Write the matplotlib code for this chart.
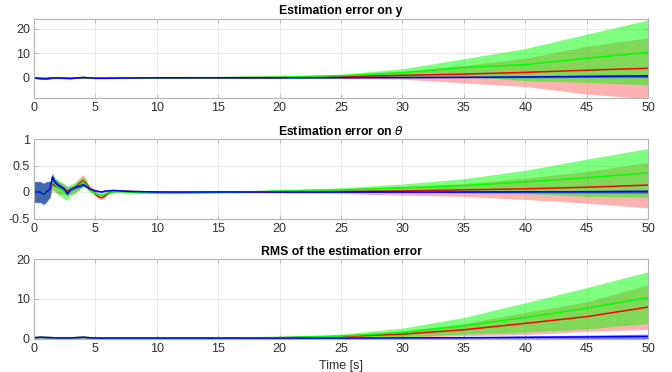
import matplotlib
matplotlib.use("Agg")
import matplotlib.pyplot as plt
import numpy as np

plt.rcParams['font.family'] = ['Liberation Sans', 'DejaVu Sans']

# ---------------- data ----------------
t_coarse = [0, 0.5, 1, 1.5, 2, 3, 4, 5, 6, 8, 10, 12, 15, 20, 25, 30, 35, 40, 45, 50]

# Estimation error on y
y_blue_mean = [0, -0.3, -0.4, -0.1, -0.1, -0.3, 0.1, -0.2, -0.2, -0.1, 0, 0, 0, 0, 0.05, 0.1, 0.2, 0.35, 0.55, 0.75]
y_blue_sd   = [0.3, 0.3, 0.3, 0.2, 0.2, 0.1, 0.1, 0.1, 0.1, 0.1, 0.1, 0.1, 0.1, 0.1, 0.1, 0.15, 0.2, 0.3, 0.45, 0.6]
y_red_mean  = [0, -0.2, -0.3, -0.1, -0.1, -0.2, 0.1, -0.2, -0.2, -0.1, 0, 0, 0, 0.1, 0.4, 1.0, 1.5, 2.2, 3.1, 3.9]
y_red_sd    = [0.3, 0.3, 0.3, 0.3, 0.3, 0.2, 0.2, 0.2, 0.2, 0.1, 0.1, 0.1, 0.15, 0.3, 0.7, 1.6, 3.6, 5.8, 9.8, 12.5]
y_green_mean = [0, -0.2, -0.3, -0.1, -0.1, -0.2, 0.1, -0.2, -0.2, -0.1, 0, 0, 0.05, 0.3, 0.8, 2.1, 4.2, 5.4, 8.0, 10.4]
y_green_sd   = [0.3, 0.3, 0.3, 0.3, 0.3, 0.2, 0.2, 0.2, 0.2, 0.1, 0.1, 0.1, 0.15, 0.3, 0.7, 1.6, 3.6, 6.6, 9.9, 13.3]

# Estimation error on theta
t_fine = [0, 0.5, 0.8, 1.0, 1.3, 1.5, 1.7, 2.0, 2.3, 2.5, 2.7, 3.0, 3.3, 3.5, 3.8, 4.0, 4.3, 4.5, 4.8,
          5.0, 5.3, 5.5, 5.8, 6.0, 6.5, 7.0, 8.0, 10, 12, 15, 20, 25, 30, 35, 40, 45, 50]
th_blue_mean = [0.0, 0.0, -0.04, 0.0, 0.05, 0.28, 0.18, 0.12, 0.08, 0.05, -0.03, 0.05, 0.08, 0.10, 0.12, 0.14,
                0.10, 0.06, 0.04, 0.02, 0.01, 0.0, 0.02, 0.02, 0.03, 0.02, 0.01, 0.0, 0.0, 0.0, 0.0, 0.0,
                0.0, 0.0, 0.005, 0.005, 0.01]
th_blue_sd = [0.2, 0.2, 0.2, 0.2, 0.15, 0.08, 0.06, 0.05, 0.04, 0.04, 0.04, 0.03, 0.03, 0.03, 0.03, 0.03,
              0.02, 0.02, 0.02, 0.02, 0.015, 0.015, 0.015, 0.015, 0.01, 0.01, 0.01, 0.01, 0.01, 0.01, 0.01,
              0.01, 0.012, 0.015, 0.02, 0.025, 0.03]
th_red_mean = [0.0, 0.0, -0.02, 0.0, 0.05, 0.15, 0.12, 0.08, 0.06, 0.05, 0.02, 0.04, 0.07, 0.12, 0.18, 0.22,
               0.15, 0.08, 0.02, -0.04, -0.10, -0.11, -0.07, -0.03, 0.02, 0.02, 0.01, 0.0, -0.01, 0.0, 0.0,
               0.01, 0.02, 0.04, 0.06, 0.09, 0.13]
th_red_sd = [0.19, 0.19, 0.19, 0.18, 0.15, 0.12, 0.12, 0.12, 0.1, 0.1, 0.08, 0.08, 0.09, 0.1, 0.11, 0.11,
             0.06, 0.05, 0.04, 0.03, 0.03, 0.03, 0.03, 0.02, 0.02, 0.015, 0.01, 0.01, 0.01, 0.01, 0.02,
             0.04, 0.08, 0.12, 0.2, 0.3, 0.43]
th_green_mean = [0.0, 0.0, -0.02, 0.0, 0.05, 0.2, 0.15, 0.08, 0.04, 0.0, -0.02, 0.04, 0.07, 0.1, 0.15, 0.2,
                 0.12, 0.05, 0.0, -0.03, -0.05, -0.06, -0.04, -0.02, 0.01, 0.01, -0.01, -0.02, -0.02, -0.01,
                 0.02, 0.04, 0.08, 0.12, 0.19, 0.27, 0.36]
th_green_sd = [0.19, 0.19, 0.19, 0.18, 0.15, 0.12, 0.13, 0.14, 0.14, 0.14, 0.13, 0.1, 0.1, 0.1, 0.1, 0.1,
               0.06, 0.05, 0.04, 0.03, 0.03, 0.03, 0.03, 0.02, 0.02, 0.015, 0.01, 0.01, 0.01, 0.01, 0.02,
               0.04, 0.07, 0.13, 0.22, 0.35, 0.46]

# RMS of the estimation error
r_blue_mean = [0.2, 0.3, 0.25, 0.2, 0.15, 0.15, 0.3, 0.1, 0.1, 0.1, 0.1, 0.1, 0.1, 0.1, 0.1, 0.15, 0.2, 0.3, 0.4, 0.5]
r_blue_sd   = [0.1, 0.1, 0.1, 0.1, 0.1, 0.1, 0.1, 0.1, 0.1, 0.1, 0.1, 0.1, 0.1, 0.1, 0.1, 0.15, 0.2, 0.3, 0.45, 0.6]
r_red_mean  = [0.2, 0.3, 0.25, 0.2, 0.15, 0.15, 0.3, 0.1, 0.1, 0.1, 0.1, 0.1, 0.1, 0.2, 0.5, 1.1, 2.2, 3.8, 5.5, 7.9]
r_red_sd    = [0.1, 0.1, 0.1, 0.1, 0.1, 0.1, 0.1, 0.1, 0.1, 0.1, 0.1, 0.1, 0.1, 0.1, 0.3, 0.8, 1.5, 2.8, 3.7, 5.6]
r_green_mean = [0.2, 0.3, 0.25, 0.2, 0.15, 0.15, 0.3, 0.1, 0.1, 0.1, 0.1, 0.1, 0.1, 0.25, 0.6, 1.5, 3.2, 5.3, 7.6, 10.3]
r_green_sd   = [0.1, 0.1, 0.1, 0.1, 0.1, 0.1, 0.1, 0.1, 0.1, 0.1, 0.1, 0.1, 0.1, 0.15, 0.5, 1.1, 2.1, 3.7, 5.2, 6.5]

titles = ['Estimation error on y', r'Estimation error on $\theta$', 'RMS of the estimation error']
ylims = [(-8.3, 24.3), (-0.5, 1.0), (0, 20)]
yticks = [[0, 10, 20], [-0.5, 0, 0.5, 1], [0, 10, 20]]
ytick_labels = [['0', '10', '20'], ['-0.5', '0', '0.5', '1'], ['0', '10', '20']]
xticks = [0, 5, 10, 15, 20, 25, 30, 35, 40, 45, 50]
xlabel = 'Time [s]'

panels = [
    (t_coarse, [(y_red_mean, y_red_sd), (y_green_mean, y_green_sd), (y_blue_mean, y_blue_sd)]),
    (t_fine, [(th_red_mean, th_red_sd), (th_green_mean, th_green_sd), (th_blue_mean, th_blue_sd)]),
    (t_coarse, [(r_red_mean, r_red_sd), (r_green_mean, r_green_sd), (r_blue_mean, r_blue_sd)]),
]

line_colors = ['#ff0000', '#00ff00', '#0000ff']
band_alpha = [0.3, 0.5, 0.5]

# ---------------- figure ----------------
fig = plt.figure(figsize=(6.72, 3.72), dpi=100)
left, width = 34 / 672, (648 - 34) / 672
bottoms = [1 - 98 / 372, 1 - 218.5 / 372, 1 - 338.5 / 372]
height = 79.5 / 372

tick_col = '#303030'
spine_col = '#b4b4b4'

for i, (tt, series) in enumerate(panels):
    ax = fig.add_axes([left, bottoms[i], width, height])
    tt = np.asarray(tt)
    for (m, s), c, a in zip(series, line_colors, band_alpha):
        m = np.asarray(m); s = np.asarray(s)
        ax.fill_between(tt, m - s, m + s, color=c, alpha=a, linewidth=0)
    for (m, s), c in zip(series, line_colors):
        ax.plot(tt, m, color=c, lw=1.1)
    ax.set_xlim(0, 50)
    ax.set_ylim(*ylims[i])
    ax.set_xticks(xticks)
    ax.set_yticks(yticks[i])
    ax.set_yticklabels(ytick_labels[i])
    ax.grid(True, color='#e6e6e6', lw=0.6)
    ax.set_axisbelow(True)
    ax.tick_params(direction='in', length=3, width=0.6, colors=spine_col,
                   labelcolor=tick_col, labelsize=9, top=True, right=True, pad=3)
    for sp in ax.spines.values():
        sp.set_color(spine_col)
        sp.set_linewidth(0.8)
    ax.set_title(titles[i], fontsize=8.8, fontweight='bold', pad=3)
    if i == 2:
        ax.set_xlabel(xlabel, fontsize=9, color=tick_col, labelpad=4)

fig.savefig('out.png', dpi=100)
